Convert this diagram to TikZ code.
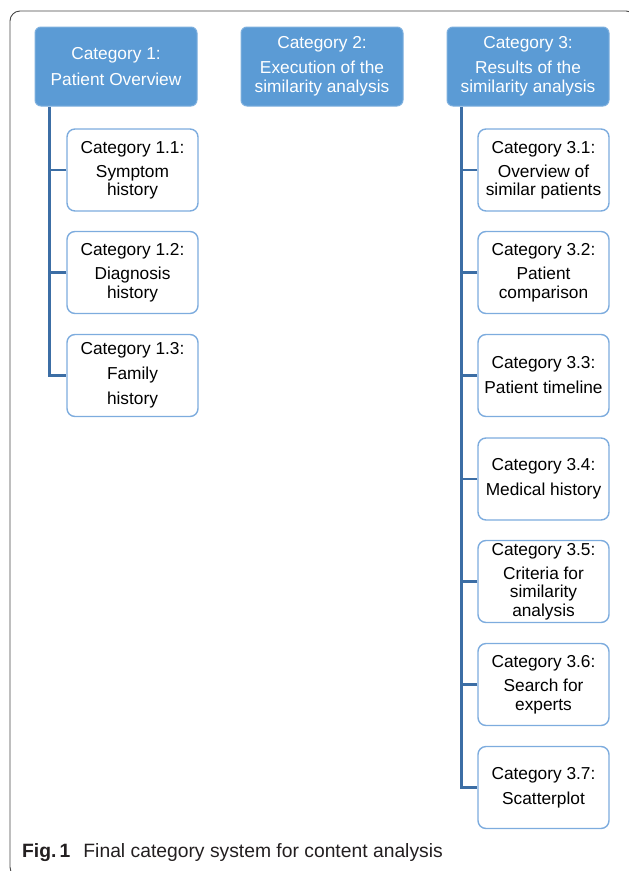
\documentclass[tikz,border=0pt]{standalone}
\usepackage{fontspec}
\setmainfont{Liberation Sans}
\usepackage{tikz}

\definecolor{headblue}{RGB}{91,155,213}
\definecolor{headedge}{RGB}{125,175,222}
\definecolor{subedge}{RGB}{125,172,222}
\definecolor{linkblue}{RGB}{60,110,165}
\definecolor{framegray}{RGB}{70,70,70}
\definecolor{captext}{RGB}{35,31,32}

\begin{document}
\begin{tikzpicture}[x=1pt,y=-1pt]
\tikzstyle{every node}+=[inner sep=0pt, align=center, font=\fontsize{17.3}{18.5}\selectfont]
\tikzstyle{head}=[rectangle, rounded corners=6pt, fill=headblue, draw=headedge, line width=1pt, text=white, minimum width=162pt, minimum height=79pt]
\tikzstyle{sub}=[rectangle, rounded corners=8pt, fill=white, draw=subedge, line width=1.4pt, minimum width=131pt, minimum height=82pt]
\tikzstyle{link}=[draw=linkblue, line width=2.2pt]
\useasboundingbox (0,0) rectangle (629,871);
\clip (0,0) rectangle (629,871);
\draw [framegray, line width=0.9pt, rounded corners=10pt] (10,11) rectangle (636,877);
% main categories
\node [head] (cat1) at (116,66.5) {Category 1:\\[7.5pt]Patient Overview};
\node [head] (cat2) at (322,66.5) {Category 2:\\[6.5pt]Execution of the\\similarity analysis};
\node [head] (cat3) at (528,66.5) {Category 3:\\[6.5pt]Results of the\\similarity analysis};
% sub categories of 1
\node [sub] (cat11) at (132.5,170) {Category 1.1:\\[5.5pt]Symptom\\history};
\node [sub] (cat12) at (132.5,272.5) {Category 1.2:\\[5.5pt]Diagnosis\\history};
\node [sub] (cat13) at (132.5,375.5) {Category 1.3:\\[6.5pt]Family\\[6.5pt]history};
% sub categories of 3
\node [sub] (cat31) at (543.5,170) {Category 3.1:\\[5.5pt]Overview of\\similar patients};
\node [sub] (cat32) at (543.5,272.5) {Category 3.2:\\[5.5pt]Patient\\comparison};
\node [sub] (cat33) at (543.5,375.5) {Category 3.3:\\[6.5pt]Patient timeline};
\node [sub] (cat34) at (543.5,479) {Category 3.4:\\[6.5pt]Medical history};
\node [sub] (cat35) at (543.5,581.5) {Category 3.5:\\[5.5pt]Criteria for\\similarity\\analysis};
\node [sub] (cat36) at (543.5,684.5) {Category 3.6:\\[5.5pt]Search for\\experts};
\node [sub] (cat37) at (543.5,787.5) {Category 3.7:\\[6.5pt]Scatterplot};
% connectors
\coordinate (trunk1) at ([xshift=15pt]cat1.south west);
\coordinate (trunk3) at ([xshift=15pt]cat3.south west);
\draw [link] (trunk1) |- (cat13.west);
\draw [link] (cat11.west) -- (cat11.west -| trunk1);
\draw [link] (cat12.west) -- (cat12.west -| trunk1);
\draw [link] (trunk3) |- (cat37.west);
\foreach \n in {31,32,33,34,35,36}
  \draw [link] (cat\n.west) -- (cat\n.west -| trunk3);
% caption
\node [anchor=base west, text=captext, font=\fontsize{19.3}{21}\selectfont] (caption) at (22,857)
  {\textbf{Fig.\,1}\hspace{13pt}Final category system for content analysis};
\end{tikzpicture}
\end{document}
